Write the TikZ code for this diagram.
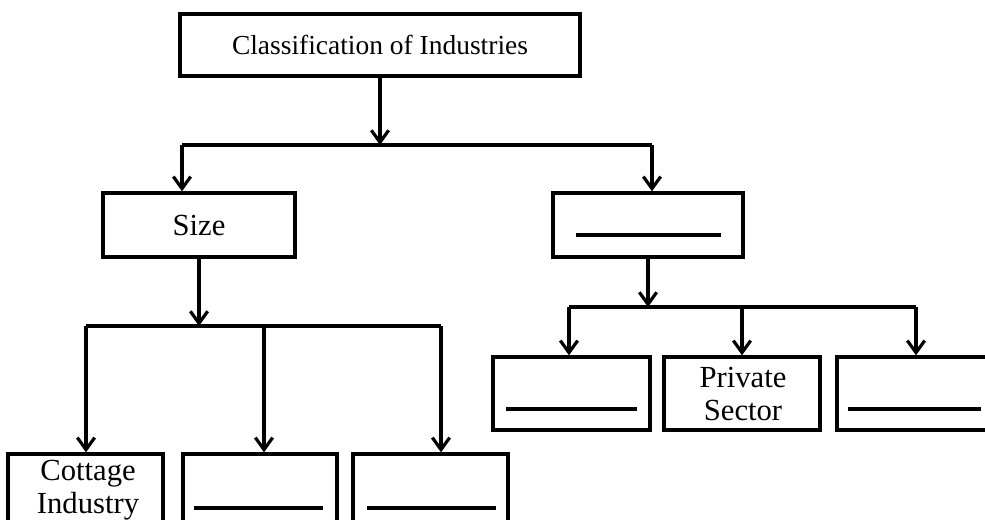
\documentclass[tikz,border=0pt]{standalone}
\usepackage{fontspec}
\setmainfont{Liberation Serif}
\usetikzlibrary{arrows.meta,calc}
\tikzset{
  box/.style={draw=black, line width=2.5pt, rectangle, inner sep=0pt, fill=white},
  conn/.style={line width=2.4pt, draw=black},
  arr/.style={conn, -{Straight Barb[length=9pt,width=13pt,line width=2.4pt]}},
  blankline/.style={line width=2.6pt, draw=black},
  lbl/.style={align=center, inner sep=0pt, font=\fontsize{23}{25}\selectfont},
  ttl/.style={inner sep=0pt, font=\fontsize{20.6}{24}\selectfont},
}
\begin{document}
\begin{tikzpicture}[x=0.75pt, y=-0.75pt]
\useasboundingbox (0,0) rectangle (985,520);
\clip (0,0) rectangle (985,520);
% boxes
\node[box, minimum width=400*0.75pt, minimum height=62*0.75pt] (top) at (380,45) {};
\node[ttl] (toptxt) at (380,45) {Classification of Industries};
\node[box, minimum width=192*0.75pt, minimum height=64*0.75pt] (size) at (199,225) {};
\node[lbl] (sizetxt) at (199,225) {Size};
\node[box, minimum width=190*0.75pt, minimum height=64*0.75pt] (rb) at (648,225) {};
\node[box, minimum width=155*0.75pt, minimum height=86*0.75pt] (c1) at (85.5,497) {};
\node[lbl] (c1txt) at (88,490) {Cottage\\Industry};
\node[box, minimum width=154*0.75pt, minimum height=86*0.75pt] (c2) at (260,497) {};
\node[box, minimum width=155*0.75pt, minimum height=86*0.75pt] (c3) at (430.5,497) {};
\node[box, minimum width=157*0.75pt, minimum height=73*0.75pt] (p1) at (571.5,393.5) {};
\node[box, minimum width=156*0.75pt, minimum height=73*0.75pt] (p2) at (742,393.5) {};
\node[lbl] (p2txt) at (743,394) {Private\\Sector};
\node[box, minimum width=156*0.75pt, minimum height=73*0.75pt] (p3) at (915,393.5) {};
% blank lines
\draw[blankline] ($(rb)+(-72,10)$) -- ($(rb)+(73,10)$);
\draw[blankline] ($(c2)+(-66,11)$) -- ($(c2)+(63,11)$);
\draw[blankline] ($(c3)+(-63.5,11)$) -- ($(c3)+(65.5,11)$);
\draw[blankline] ($(p1)+(-65.5,15.5)$) -- ($(p1)+(65.5,15.5)$);
\draw[blankline] ($(p3)+(-67,15.5)$) -- ($(p3)+(66,15.5)$);
% connectors level 1
\coordinate (j1) at (380,145);
\coordinate (j1l) at (182,145);
\coordinate (j1r) at (652,145);
\draw[arr] (top.south) -- (j1);
\draw[conn] (j1l) -- (j1r);
\draw[arr] (j1l) -- (j1l |- size.north);
\draw[arr] (j1r) -- (j1r |- rb.north);
% connectors from size
\coordinate (j2) at (199,326);
\coordinate (j2l) at (86,326);
\coordinate (j2m) at (264,326);
\coordinate (j2r) at (441,326);
\draw[arr] (size.south) -- (j2);
\draw[conn] (j2l) -- (j2r);
\draw[arr] (j2l) -- (j2l |- c1.north);
\draw[arr] (j2m) -- (j2m |- c2.north);
\draw[arr] (j2r) -- (j2r |- c3.north);
% connectors from rb
\coordinate (j3) at (648,307);
\coordinate (j3l) at (569,307);
\coordinate (j3m) at (742,307);
\coordinate (j3r) at (916,307);
\draw[arr] (rb.south) -- (j3);
\draw[conn] (j3l) -- (j3r);
\draw[arr] (j3l) -- (j3l |- p1.north);
\draw[arr] (j3m) -- (j3m |- p2.north);
\draw[arr] (j3r) -- (j3r |- p3.north);
\end{tikzpicture}
\end{document}
